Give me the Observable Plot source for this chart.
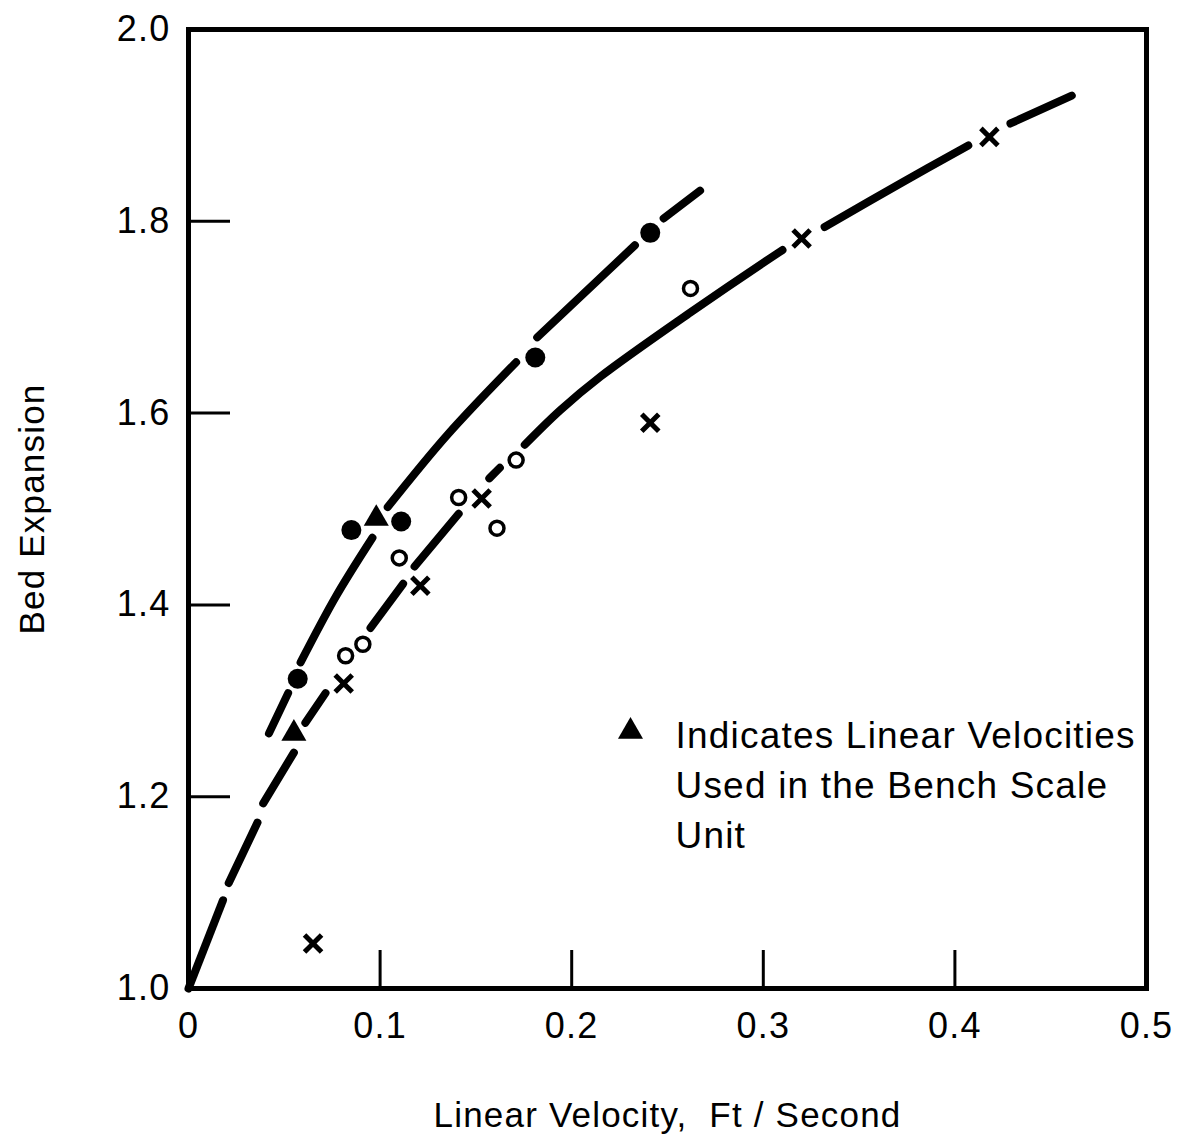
<!DOCTYPE html>
<html>
<head>
<meta charset="utf-8">
<script src="https://cdn.jsdelivr.net/npm/d3@7"></script>
<script src="https://cdn.jsdelivr.net/npm/@observablehq/plot@0.6"></script>
<style>
  html, body { margin: 0; padding: 0; background: #fff; }
  #chart svg text { letter-spacing: 1.2px; }
</style>
</head>
<body>
<div id="chart"></div>
<script>
// ---- data ----
// filled circles
const filledV = [0.057, 0.085, 0.111, 0.181, 0.241];
const filledB = [1.323, 1.478, 1.487, 1.658, 1.788];
// triangles (bench scale velocities)
const triV = [0.055, 0.098];
const triB = [1.266, 1.490];
// open circles
const openV = [0.082, 0.091, 0.110, 0.141, 0.161, 0.171, 0.262];
const openB = [1.347, 1.359, 1.449, 1.512, 1.480, 1.551, 1.730];
// crosses
const crossV = [0.065, 0.081, 0.121, 0.153, 0.241, 0.320, 0.418];
const crossB = [1.047, 1.318, 1.420, 1.511, 1.590, 1.782, 1.888];

// upper fitted curve, dash segments
const upperSeg = [1, 1, 2, 2, 2, 3, 3, 3, 4, 4, 5, 5];
const upperV   = [0.042, 0.052, 0.0585, 0.077, 0.096, 0.104, 0.135, 0.171, 0.182, 0.233, 0.248, 0.267];
const upperB   = [1.266, 1.308, 1.340, 1.409, 1.470, 1.502, 1.577, 1.653, 1.679, 1.775, 1.803, 1.832];

// lower fitted curve, dash segments
const lowerSeg = [1, 1, 2, 2, 3, 3, 4, 4, 5, 5, 6, 6, 7, 7, 8, 8, 8, 8, 8, 9, 9, 9, 10, 10];
const lowerV   = [0.000, 0.018, 0.021, 0.036, 0.039, 0.055, 0.061, 0.0715, 0.095, 0.112, 0.118, 0.141, 0.157, 0.1625, 0.1755, 0.194, 0.215, 0.262, 0.310, 0.332, 0.372, 0.407, 0.429, 0.461];
const lowerB   = [1.000, 1.092, 1.110, 1.173, 1.193, 1.246, 1.277, 1.308, 1.376, 1.422, 1.440, 1.495, 1.532, 1.543, 1.567, 1.603, 1.638, 1.705, 1.770, 1.794, 1.840, 1.879, 1.902, 1.931];

const xTickVals = [0, 0.1, 0.2, 0.3, 0.4, 0.5];
const yTickVals = [1.0, 1.2, 1.4, 1.6, 1.8, 2.0];
const xInner = [0.1, 0.2, 0.3, 0.4];
const yInner = [1.2, 1.4, 1.6, 1.8];

const xTitle = "Linear Velocity,  Ft / Second";
const yTitle = "Bed Expansion";
const legendText = "Indicates Linear Velocities\nUsed in the Bench Scale\nUnit";

// ---- build tables ----
const pts = (vs, bs) => vs.map((v, i) => ({v, b: bs[i]}));
const segPts = (segs, vs, bs) => segs.map((s, i) => ({seg: s, v: vs[i], b: bs[i]}));
const filled = pts(filledV, filledB);
const tri = pts(triV, triB);
const open = pts(openV, openB);
const cross = pts(crossV, crossB);
const upper = segPts(upperSeg, upperV, upperB);
const lower = segPts(lowerSeg, lowerV, lowerB);

const W = 1177, H = 1142;
const mL = 188, mR = 31, mT = 29, mB = 154;
const plotW = W - mL - mR, plotH = H - mT - mB;
const font = "'Liberation Sans Narrow', 'Liberation Sans', sans-serif";

const chart = Plot.plot({
  width: W,
  height: H,
  marginLeft: mL,
  marginRight: mR,
  marginTop: mT,
  marginBottom: mB,
  style: {fontFamily: font, color: "black", background: "white"},
  x: {domain: [0, 0.5]},
  y: {domain: [1, 2]},
  marks: [
    Plot.line(lower, {x: "v", y: "b", z: "seg", stroke: "black", strokeWidth: 8, strokeLinecap: "round", curve: "catmull-rom"}),
    Plot.line(upper, {x: "v", y: "b", z: "seg", stroke: "black", strokeWidth: 8, strokeLinecap: "round", curve: "catmull-rom"}),
    Plot.tickX(xInner, {x: d => d, insetTop: plotH - 38, stroke: "black", strokeWidth: 3}),
    Plot.tickY(yInner, {y: d => d, insetRight: plotW - 42, stroke: "black", strokeWidth: 3}),
    Plot.frame({stroke: "black", strokeWidth: 5}),
    Plot.axisX(xTickVals, {tickSize: 0, tickPadding: 24, fontSize: 36, label: null,
      tickFormat: d => d === 0 ? "0" : d.toFixed(1)}),
    Plot.axisY(yTickVals, {tickSize: 0, tickPadding: 18, fontSize: 36, label: null,
      tickFormat: d => d.toFixed(1)}),
    Plot.dot(filled, {x: "v", y: "b", r: 10, fill: "black", stroke: "none"}),
    Plot.dot(tri, {x: "v", y: "b", r: 9.3, symbol: "triangle", fill: "black", stroke: "none"}),
    Plot.dot(open, {x: "v", y: "b", r: 7, fill: "white", stroke: "black", strokeWidth: 3.5}),
    Plot.dot(cross, {x: "v", y: "b", r: 7.8, symbol: "times", stroke: "black", strokeWidth: 5}),
    // axis titles
    Plot.text([xTitle], {frameAnchor: "bottom", dy: 127, lineAnchor: "middle", fontSize: 35, text: d => d}),
    Plot.text([yTitle], {frameAnchor: "left", dx: -156, dy: 0, rotate: -90, textAnchor: "middle", lineAnchor: "middle", fontSize: 35, text: d => d}),
    // legend
    Plot.dot([0], {frameAnchor: "top-left", dx: 630 - mL, dy: 731 - mT, r: 9.3, symbol: "triangle", fill: "black", stroke: "none"}),
    Plot.text([legendText], {frameAnchor: "top-left", dx: 675 - mL, dy: 712 - mT, textAnchor: "start", lineAnchor: "top", fontSize: 37, lineHeight: 1.35, text: d => d})
  ]
});
document.getElementById("chart").appendChild(chart);
</script>
</body>
</html>
